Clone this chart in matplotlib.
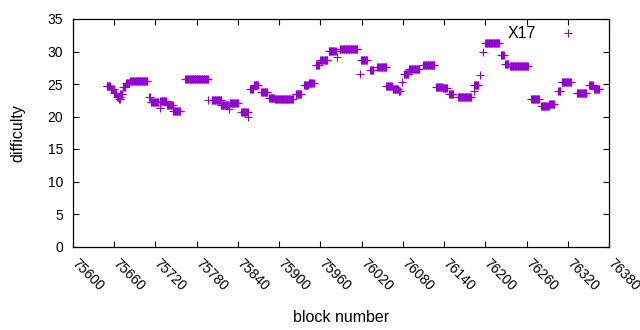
import numpy as np
import matplotlib
matplotlib.use("Agg")
import matplotlib.pyplot as plt
from matplotlib.transforms import ScaledTranslation

plt.rcParams['font.family'] = ['Liberation Sans', 'DejaVu Sans']

# runs of consecutive blocks with (about) the same difficulty
run_start = [75649, 75655, 75660, 75664, 75667, 75669, 75673, 75677, 75683, 75711,
             75713, 75726, 75727, 75737, 75746, 75763, 75797, 75802, 75815, 75827,
             75828, 75845, 75855, 75858, 75863, 75874, 75885, 75894, 75924, 75936,
             75943, 75953, 75960, 75972, 75984, 75988, 76017, 76019, 76032, 76043,
             76056, 76065, 76074, 76079, 76082, 76089, 76110, 76128, 76138, 76147,
             76160, 76183, 76184, 76193, 76196, 76200, 76223, 76229, 76236, 76267,
             76281, 76293, 76306, 76311, 76333, 76351, 76358]
run_end = [75654, 75659, 75663, 75668, 75668, 75672, 75676, 75682, 75708, 75712,
           75724, 75726, 75736, 75745, 75756, 75796, 75797, 75816, 75826, 75827,
           75840, 75854, 75855, 75862, 75869, 75883, 75893, 75920, 75932, 75942,
           75950, 75958, 75970, 75982, 75984, 76014, 76017, 76028, 76037, 76056,
           76064, 76073, 76076, 76079, 76088, 76104, 76126, 76137, 76144, 76153,
           76179, 76183, 76190, 76193, 76196, 76220, 76227, 76233, 76262, 76278,
           76292, 76300, 76309, 76324, 76347, 76356, 76366]
run_diff = [24.7, 24.2, 23.6, 23.0, 22.7, 23.4, 24.6, 25.1, 25.5, 23.0,
            22.2, 21.3, 22.4, 21.7, 20.9, 25.7, 22.5, 22.6, 21.7, 21.2,
            22.1, 20.7, 20.0, 24.3, 24.9, 23.8, 22.9, 22.7, 23.4, 24.8,
            25.2, 28.0, 28.7, 30.1, 29.2, 30.4, 26.6, 28.7, 27.2, 27.6,
            24.7, 24.3, 23.9, 25.3, 26.6, 27.3, 27.9, 24.6, 24.4, 23.5,
            23.0, 23.9, 24.9, 26.4, 29.9, 31.3, 29.5, 28.1, 27.7, 22.7,
            21.6, 22.0, 24.0, 25.3, 23.6, 24.9, 24.3]

xticks = np.arange(75600, 76381, 60)
yticks = np.arange(0, 36, 5)

blocks = np.concatenate([np.arange(s, e + 1) for s, e in zip(run_start, run_end)])
diffs = np.concatenate([np.full(e - s + 1, d) for s, e, d in zip(run_start, run_end, run_diff)])

fig = plt.figure(figsize=(6.4, 3.3), dpi=100)
ax = fig.add_axes([73 / 640, 1 - 246.5 / 330, 536 / 640, 227.5 / 330])

ax.plot(blocks, diffs, '+', color='#9400d3', markersize=5.2, markeredgewidth=0.8,
        label='X17')

ax.set_xlim(75600, 76380)
ax.set_ylim(0, 35)
ax.set_xticks(xticks)
ax.set_yticks(yticks)
ax.tick_params(direction='in', length=4.5, width=0.8, top=True, right=True,
               labelsize=10, color='black')
ax.tick_params(axis='y', pad=7)
ax.tick_params(axis='x', pad=7)
shift = ScaledTranslation(6 / 100, 0, fig.dpi_scale_trans)
for lab in ax.get_xticklabels():
    lab.set_rotation(-45)
    lab.set_ha('left')
    lab.set_va('top')
    lab.set_rotation_mode('anchor')
    lab.set_transform(lab.get_transform() + shift)
for sp in ax.spines.values():
    sp.set_linewidth(0.9)

ax.set_xlabel('block number', fontsize=11.5, labelpad=12)
ax.set_ylabel('difficulty', fontsize=11.5, labelpad=16)

ax.legend(loc='upper right', bbox_to_anchor=(0.97, 1.0), markerfirst=False,
          frameon=False, fontsize=11.5, handlelength=2.2, handletextpad=0.9,
          borderaxespad=0.05)

fig.savefig('out.png', dpi=100)
